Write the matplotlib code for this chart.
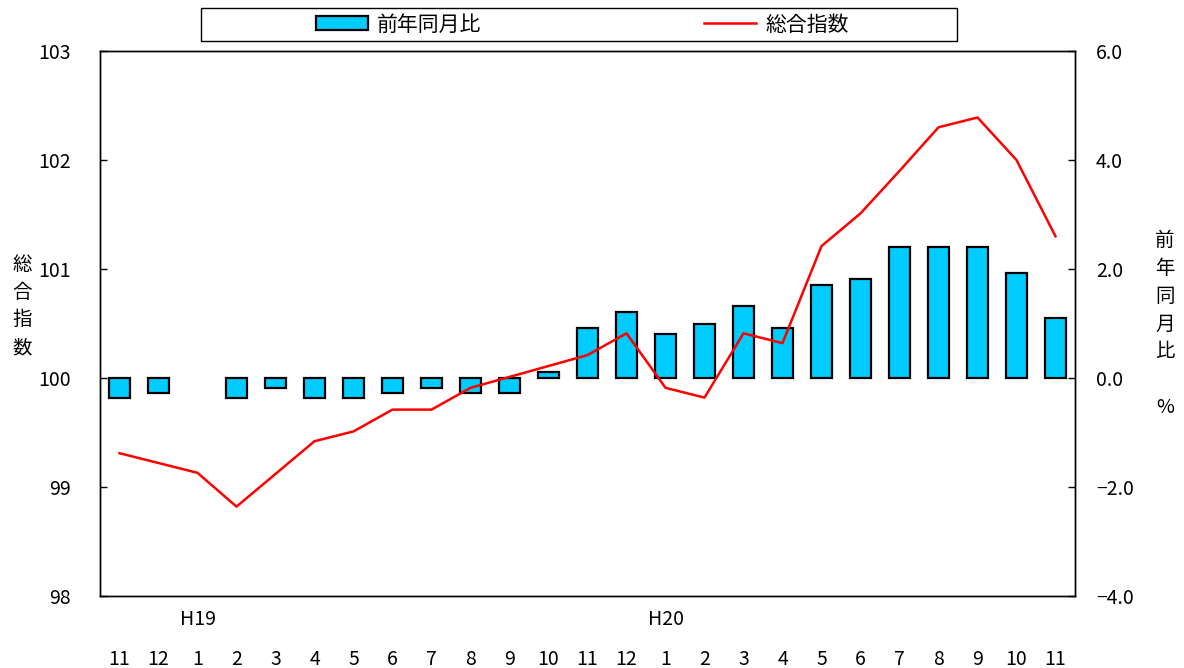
import matplotlib
matplotlib.use("Agg")
import matplotlib.pyplot as plt
from matplotlib.patches import Rectangle, Patch
from matplotlib.lines import Line2D
from matplotlib.transforms import blended_transform_factory

plt.rcParams['font.family'] = ['Noto Sans CJK JP', 'DejaVu Sans']

# --- Data ------------------------------------------------------------------
months = ["11", "12", "1", "2", "3", "4", "5", "6", "7", "8", "9", "10",
          "11", "12", "1", "2", "3", "4", "5", "6", "7", "8", "9", "10", "11"]
years = {"H19": 2, "H20": 14}

# 前年同月比 (%), right axis
yoy = [-0.36, -0.28, 0.0, -0.36, -0.19, -0.36, -0.36, -0.28, -0.19, -0.28,
       -0.28, 0.11, 0.92, 1.21, 0.81, 0.99, 1.32, 0.92, 1.70, 1.81, 2.41,
       2.41, 2.41, 1.92, 1.10]

# 総合指数, left axis
index = [99.31, 99.22, 99.13, 98.82, 99.12, 99.42, 99.51, 99.71, 99.71, 99.91,
         100.01, 100.11, 100.21, 100.41, 99.91, 99.82, 100.41, 100.32, 101.21,
         101.51, 101.90, 102.30, 102.39, 102.00, 101.30]

BAR_COLOR = "#00CCFF"
LINE_COLOR = "#FF0000"
FS = 14

fig = plt.figure(figsize=(11.84, 6.68), dpi=100)
ax = fig.add_axes([100 / 1184, 1 - 596 / 668, 975 / 1184, 545 / 668])
ax2 = ax.twinx()

x = list(range(len(months)))

# bars on the right axis (no outline for an empty bar)
edge_w = [1.6 if v != 0 else 0 for v in yoy]
ax2.bar(x, yoy, width=0.52, color=BAR_COLOR, edgecolor="black", linewidth=edge_w)
ax2.set_ylim(-4.0, 6.0)
rticks = [-4.0, -2.0, 0.0, 2.0, 4.0, 6.0]
ax2.set_yticks(rticks)
ax2.set_yticklabels([f"{v:.1f}".replace("-", "\u2212") for v in rticks])
ax2.tick_params(axis="y", direction="in", length=5, width=1, labelsize=FS, pad=15)

# line on the left axis, drawn above the bars
ax.plot(x, index, color=LINE_COLOR, linewidth=1.8)
ax.set_zorder(ax2.get_zorder() + 1)
ax.patch.set_visible(False)
ax.set_ylim(98, 103)
ax.set_yticks([98, 99, 100, 101, 102, 103])
ax.tick_params(axis="y", direction="in", length=5, width=1, labelsize=FS, pad=21)

ax.set_xlim(-0.5, len(months) - 0.5)
ax.set_xticks(x)
ax.set_xticklabels(months)
ax.tick_params(axis="x", length=0, labelsize=FS, pad=38)
ax2.tick_params(axis="x", length=0)

for a in (ax, ax2):
    for s in a.spines.values():
        s.set_linewidth(1.0)
        s.set_color("black")

# year labels
trans = blended_transform_factory(ax.transData, ax.transAxes)
for label, pos in years.items():
    ax.text(pos, -0.044, label, transform=trans, ha="center", va="center", fontsize=FS)

# stacked axis labels
ax.set_ylabel("総\n合\n指\n数", rotation=0, fontsize=FS, linespacing=1.42,
              ha="center", va="center")
ax.yaxis.set_label_coords(-0.08, 0.532)
ax2.set_ylabel("前\n年\n同\n月\n比\n\n%", rotation=0, fontsize=FS, linespacing=1.42,
               ha="center", va="center")
ax2.yaxis.set_label_coords(1.092, 0.499)

# legend with a box across the top
fig.add_artist(Rectangle((201 / 1184, 1 - 41 / 668), 756 / 1184, 33 / 668,
                         transform=fig.transFigure, fill=False,
                         edgecolor="black", linewidth=1.0))
handles = [
    Patch(facecolor=BAR_COLOR, edgecolor="black", linewidth=1.6, label="前年同月比"),
    Line2D([0], [0], color=LINE_COLOR, lw=1.8, label="総合指数"),
]
fig.legend(handles=handles, loc="center", bbox_to_anchor=(582.5 / 1184, 1 - 24.5 / 668),
           ncol=2, frameon=False, fontsize=15, handlelength=2.5, handleheight=0.65,
           columnspacing=10.7, handletextpad=0.43)

fig.savefig("out.png", dpi=100)
